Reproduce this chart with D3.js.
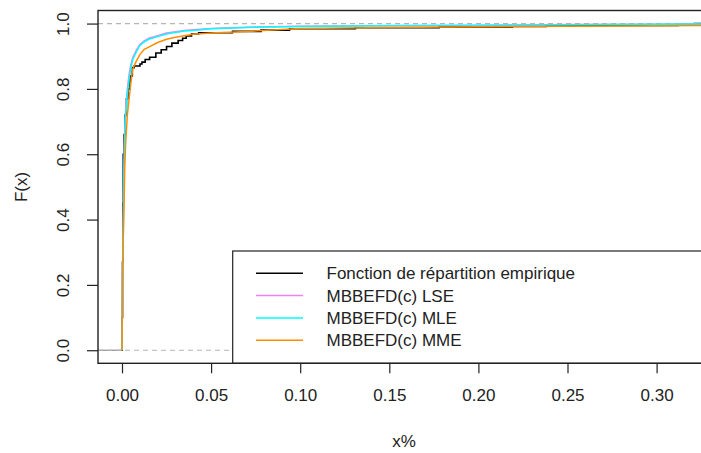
<!DOCTYPE html>
<html>
<head>
<meta charset="utf-8">
<script src="https://cdn.jsdelivr.net/npm/d3@7"></script>
<style>
  body { margin: 0; background: #fff; }
  text { font-family: "Liberation Sans", Arial, sans-serif; fill: #222; }
</style>
</head>
<body>
<svg id="chart" width="701" height="453"></svg>
<script>
// Empirical distribution function: jump positions and cumulative levels
const ecdfX = [0.0001, 0.0003, 0.0005, 0.0007, 0.0012, 0.0018, 0.0025, 0.0033, 0.0045, 0.0058, 0.0068,
  0.0101, 0.0112, 0.013, 0.0155, 0.019, 0.022, 0.025, 0.028, 0.0315, 0.034, 0.036, 0.039, 0.043,
  0.062, 0.078, 0.094, 0.131, 0.178, 0.219, 0.238, 0.312, 0.321];
const ecdfF = [0.10, 0.27, 0.45, 0.60, 0.66, 0.72, 0.77, 0.80, 0.84, 0.865, 0.87,
  0.876, 0.882, 0.89, 0.897, 0.91, 0.92, 0.93, 0.94, 0.948, 0.955, 0.962, 0.968, 0.972,
  0.976, 0.98, 0.984, 0.987, 0.990, 0.991, 0.994, 0.997, 1.0];

// Fitted MBBEFD(c) distribution functions evaluated on a grid
const gridX = [0, 0.0002, 0.0005, 0.001, 0.0015, 0.002, 0.003, 0.004, 0.005, 0.006, 0.008, 0.010,
  0.0125, 0.015, 0.02, 0.025, 0.03, 0.035, 0.04, 0.05, 0.07, 0.10, 0.15, 0.20, 0.25, 0.30, 0.337];
const lseF = [0, 0.11, 0.32, 0.54, 0.66, 0.73, 0.80, 0.845, 0.875, 0.895, 0.918, 0.936,
  0.947, 0.955, 0.963, 0.971, 0.975, 0.979, 0.981, 0.985, 0.989, 0.992, 0.994, 0.995, 0.997, 0.998, 0.999];
const mleF = [0, 0.10, 0.30, 0.52, 0.64, 0.71, 0.785, 0.83, 0.865, 0.89, 0.913, 0.933,
  0.944, 0.952, 0.960, 0.968, 0.973, 0.977, 0.979, 0.984, 0.988, 0.991, 0.993, 0.994, 0.996, 0.998, 0.999];
const mmeF = [0, 0.20, 0.30, 0.40, 0.55, 0.63, 0.72, 0.77, 0.82, 0.86, 0.885, 0.905,
  0.921, 0.928, 0.942, 0.952, 0.958, 0.963, 0.967, 0.971, 0.976, 0.985, 0.988, 0.990, 0.992, 0.993, 0.995];

const xTicks = [0, 0.05, 0.10, 0.15, 0.20, 0.25, 0.30];
const yTicks = [0, 0.2, 0.4, 0.6, 0.8, 1.0];

const legendLabels = ["Fonction de répartition empirique", "MBBEFD(c) LSE", "MBBEFD(c) MLE", "MBBEFD(c) MME"];
const legendColors = ["#000000", "#ee82ee", "#00ffff", "#ff8c00"];

const svg = d3.select("#chart");
const pLeft = 98, pRight = 722, pTop = 10.5, pBottom = 363.3;

const x = d3.scaleLinear().domain([-0.01347, 0.3367]).range([pLeft, pRight]);
const y = d3.scaleLinear().domain([-0.04, 1.04]).range([pBottom, pTop]);

svg.append("defs").append("clipPath").attr("id", "plotclip")
  .append("rect").attr("x", pLeft).attr("y", pTop).attr("width", pRight - pLeft).attr("height", pBottom - pTop);

const plot = svg.append("g").attr("clip-path", "url(#plotclip)");

// Faint baseline left of zero, under the dashed reference line
plot.append("line")
  .attr("x1", pLeft).attr("x2", x(0)).attr("y1", y(0)).attr("y2", y(0))
  .attr("stroke", "#777").attr("stroke-width", 1);

// Empirical step function, extended to the right edge
const ecdfPts = [[0, 0]].concat(ecdfX.map((v, i) => [v, ecdfF[i]]));
ecdfPts.push([x.domain()[1], 1]);
const stepLine = d3.line().x(d => x(d[0])).y(d => y(d[1])).curve(d3.curveStepAfter);
plot.append("path").datum(ecdfPts)
  .attr("d", stepLine)
  .attr("fill", "none").attr("stroke", "#000").attr("stroke-width", 1.6);

// Reference lines at 0 and 1
[0, 1].forEach(v => {
  plot.append("line")
    .attr("x1", pLeft).attr("x2", pRight).attr("y1", y(v)).attr("y2", y(v))
    .attr("stroke", "#b5b5b5").attr("stroke-width", 1.2).attr("stroke-dasharray", "5,4");
});

// Fitted curves
const curveLine = d3.line().x(d => x(d[0])).y(d => y(d[1]));
[[lseF, legendColors[1]], [mleF, legendColors[2]], [mmeF, legendColors[3]]].forEach(([vals, col]) => {
  plot.append("path").datum(gridX.map((v, i) => [v, vals[i]]))
    .attr("d", curveLine)
    .attr("fill", "none").attr("stroke", col).attr("stroke-width", 1.5);
});

// Legend
const lg = svg.append("g");
lg.append("rect").attr("x", 232.7).attr("y", 251).attr("width", 600).attr("height", pBottom - 251)
  .attr("fill", "#fff").attr("stroke", "#222").attr("stroke-width", 1.2);
legendLabels.forEach((lab, i) => {
  const yy = 273.3 + i * 22.3;
  lg.append("line").attr("x1", 256).attr("x2", 303).attr("y1", yy).attr("y2", yy)
    .attr("stroke", legendColors[i]).attr("stroke-width", 1.5);
  lg.append("text").attr("x", 326.5).attr("y", yy).attr("dy", "0.35em")
    .attr("font-size", 17).text(lab);
});

// Plot frame
svg.append("rect").attr("x", pLeft).attr("y", pTop).attr("width", pRight - pLeft).attr("height", pBottom - pTop)
  .attr("fill", "none").attr("stroke", "#222").attr("stroke-width", 1.4);

// X axis
const xAxis = d3.axisBottom(x).tickValues(xTicks).tickFormat(d3.format(".2f")).tickSize(10).tickPadding(16);
const gx = svg.append("g").attr("transform", `translate(0,${pBottom})`).call(xAxis);
gx.select(".domain").remove();
gx.selectAll(".tick line").attr("stroke", "#222").attr("stroke-width", 1.2);
gx.selectAll(".tick text").attr("font-size", 17).attr("font-family", "Liberation Sans, Arial, sans-serif").attr("fill", "#222");

// Y axis with rotated labels
const yAxis = d3.axisLeft(y).tickValues(yTicks).tickFormat(d3.format(".1f")).tickSize(11).tickPadding(0);
const gy = svg.append("g").attr("transform", `translate(${pLeft},0)`).call(yAxis);
gy.select(".domain").remove();
gy.selectAll(".tick line").attr("stroke", "#222").attr("stroke-width", 1.2);
gy.selectAll(".tick text").remove();
gy.selectAll(".tick").append("text")
  .attr("transform", "translate(-35,0) rotate(-90)")
  .attr("text-anchor", "middle").attr("dy", "0.35em")
  .attr("font-size", 17).attr("font-family", "Liberation Sans, Arial, sans-serif").attr("fill", "#222")
  .text(d => d3.format(".1f")(d));

// Axis titles
svg.append("text").attr("x", 404).attr("y", 441).attr("dy", "0.35em").attr("text-anchor", "middle")
  .attr("font-size", 17).text("x%");
svg.append("text").attr("transform", "translate(21,187) rotate(-90)").attr("dy", "0.35em")
  .attr("text-anchor", "middle").attr("font-size", 17).text("F(x)");
</script>
</body>
</html>
